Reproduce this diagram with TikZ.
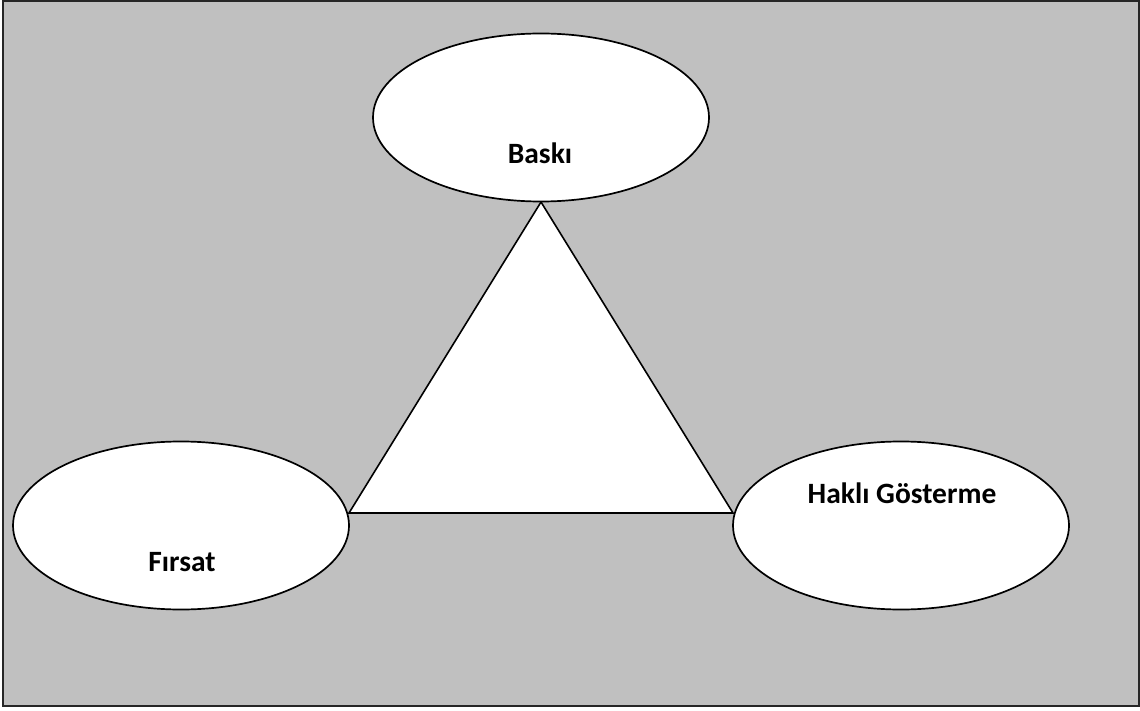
\documentclass[tikz,border=0pt]{standalone}
\usepackage{fontspec}
\setmainfont{Carlito}
\usetikzlibrary{shapes.geometric}
\tikzset{
  oval/.style={ellipse, draw=black, fill=white, line width=1.7pt,
               minimum width=336pt, minimum height=168pt, inner sep=0pt},
  lbl/.style={font=\fontsize{29.5}{34}\selectfont\bfseries, inner sep=0pt, text=black},
  frame/.style={draw=black!85, line width=2.2pt, fill=bggray}
}
\definecolor{bggray}{HTML}{C0C0C0}
\begin{document}
\begin{tikzpicture}[x=1pt,y=-1pt]
  \useasboundingbox (0,0) rectangle (1140,711);
  % outer panel
  \draw[frame] (3,1) rectangle (1139,706);

  % triangle joining the three ovals
  \coordinate (apex) at (541,202);
  \coordinate (bl) at (349,513);
  \coordinate (br) at (733,513);
  \draw[fill=white, line width=1.6pt, line join=miter] (apex) -- (bl) -- (br) -- cycle;

  % ovals
  \node[oval] (baski) at (541,117.5) {};
  \node[oval] (firsat) at (181,525.5) {};
  \node[oval] (hakli) at (901,525.5) {};

  % labels
  \node[lbl] (baskiT) at (540,153) {Baskı};
  \node[lbl] (firsatT) at (182,562) {Fırsat};
  \node[lbl] (hakliT) at (902,493) {Haklı Gösterme};
\end{tikzpicture}
\end{document}
